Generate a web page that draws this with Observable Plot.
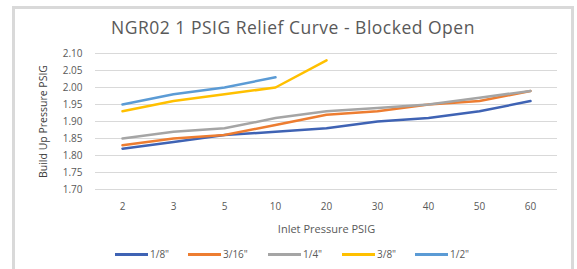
<!DOCTYPE html>
<html><head><meta charset="utf-8">
<script src="https://cdn.jsdelivr.net/npm/d3@7"></script>
<script src="https://cdn.jsdelivr.net/npm/@observablehq/plot@0.6"></script>
<style>
html,body{margin:0;padding:0;background:#fff;}
body{width:577px;height:269px;overflow:hidden;position:relative;font-family:"Open Sans",Lato,sans-serif;}
#frame{position:absolute;left:12px;top:6px;width:562px;height:290px;border:3px solid #d9d9d9;box-sizing:border-box;}
#title{position:absolute;left:0;width:586px;top:15px;text-align:center;font-size:17.5px;letter-spacing:0.5px;color:#595959;white-space:nowrap;}
#chart{position:absolute;left:0;top:40px;}
#legend{position:absolute;left:0;width:577px;top:247px;height:14px;font-size:10px;color:#595959;}
.item{position:absolute;top:0;height:14px;display:flex;align-items:center;}
.sw{display:inline-block;width:33px;height:3px;margin-right:2px;}
</style>
</head><body>
<div id="frame"></div>
<div id="title">NGR02 1 PSIG Relief Curve - Blocked Open</div>
<div id="chart"></div>
<div id="legend"></div>
<script>
const inletPressure = ["2","3","5","10","20","30","40","50","60"];
const seriesNames = ['1/8"','3/16"','1/4"','3/8"','1/2"'];
const seriesColors = ["#3f63b4","#ed7d31","#a5a5a5","#ffc000","#5b9bd5"];
const yTicks = [1.70,1.75,1.80,1.85,1.90,1.95,2.00,2.05,2.10];
const v18  = [1.82,1.84,1.86,1.87,1.88,1.90,1.91,1.93,1.96];
const v316 = [1.83,1.85,1.86,1.89,1.92,1.93,1.95,1.96,1.99];
const v14  = [1.85,1.87,1.88,1.91,1.93,1.94,1.95,1.97,1.99];
const v38  = [1.93,1.96,1.98,2.00,2.08];
const v12  = [1.95,1.98,2.00,2.03];

const allSeries = [v18,v316,v14,v38,v12];
const data = [];
allSeries.forEach((vals,i)=>vals.forEach((v,j)=>data.push({x:inletPressure[j],y:v,s:seriesNames[i]})));

const chart = Plot.plot({
  width:577, height:200,
  marginTop:13, marginBottom:51, marginLeft:95, marginRight:20,
  style:{fontFamily:'"Open Sans",Lato,sans-serif', fontSize:"10px", color:"#595959", background:"transparent"},
  x:{type:"point", domain:inletPressure, padding:0.5},
  y:{domain:[1.70,2.10]},
  color:{domain:seriesNames, range:seriesColors},
  marks:[
    Plot.gridY(yTicks,{stroke:"#d9d9d9", strokeOpacity:1, strokeWidth:1}),
    Plot.axisY(yTicks,{tickSize:0, tickPadding:13, tickFormat:d3.format(".2f"), label:null, fill:"#595959"}),
    Plot.axisX({tickSize:0, tickPadding:13, label:null, fill:"#595959"}),
    Plot.text(["Build Up Pressure PSIG"],{frameAnchor:"left", dx:-52, rotate:-90, textAnchor:"middle", fontSize:10.5, fill:"#404040"}),
    Plot.text(["Inlet Pressure PSIG"],{frameAnchor:"bottom", dy:43, fontSize:11, fill:"#595959"}),
    Plot.line(data,{x:"x", y:"y", stroke:"s", z:"s", strokeWidth:2.5, curve:"linear"})
  ]
});
document.getElementById("chart").appendChild(chart);

const legendPos = [115,188,268,342,415];
const lg = document.getElementById("legend");
seriesNames.forEach((n,i)=>{
  const d=document.createElement("div");
  d.className="item"; d.style.left=legendPos[i]+"px";
  d.innerHTML=`<span class="sw" style="background:${seriesColors[i]}"></span><span>${n}</span>`;
  lg.appendChild(d);
});
</script>
</body></html>
